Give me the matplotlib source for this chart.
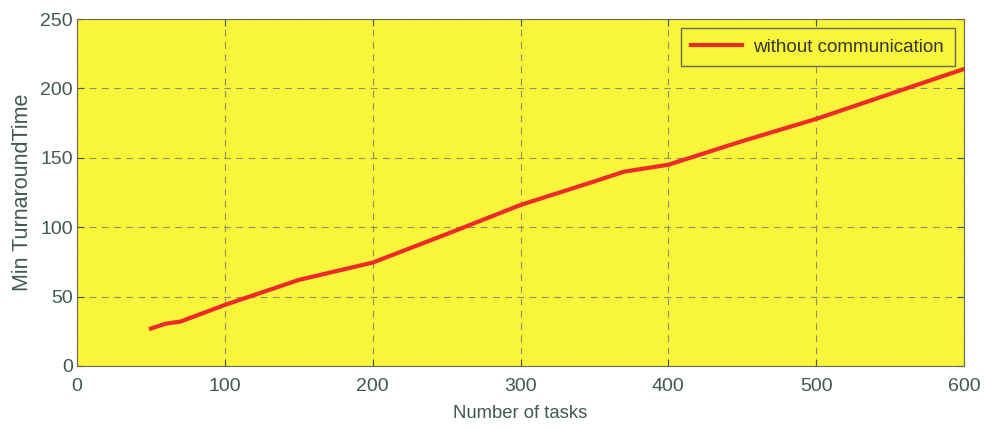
import matplotlib
matplotlib.use("Agg")
import matplotlib.pyplot as plt

tasks = [50, 60, 70, 100, 150, 200, 250, 300, 350, 370, 400, 450, 500, 550, 600]
turnaround = [27, 30.5, 32, 44, 62, 74.5, 95, 116, 133, 140, 145, 162, 178, 196, 214]
series_label = "without communication"
x_label = "Number of tasks"
y_label = "Min TurnaroundTime"
x_ticks = [0, 100, 200, 300, 400, 500, 600]
y_ticks = [0, 50, 100, 150, 200, 250]

plt.rcParams['font.family'] = ['Liberation Sans', 'DejaVu Sans']
text_color = '#3f5a4c'

fig = plt.figure(figsize=(9.89, 4.29), dpi=100)
ax = fig.add_axes([0.0779, 0.1469, 0.8968, 0.8088])
ax.set_facecolor('#f8f53a')
ax.plot(tasks, turnaround, color='#ee2a2a', linewidth=3, label=series_label)
ax.set_xlim(0, 600)
ax.set_ylim(0, 250)
ax.set_xticks(x_ticks)
ax.set_yticks(y_ticks)
ax.grid(True, linestyle=(0, (6, 5)), color='#8f8f68', linewidth=0.8)
ax.tick_params(direction='in', top=True, right=True, labelsize=14,
               colors=text_color, length=5)
ax.tick_params(axis='x', pad=9)
ax.tick_params(axis='y', pad=3)
for s in ax.spines.values():
    s.set_color('#6a6a5a')
    s.set_linewidth(0.8)
ax.set_xlabel(x_label, fontsize=13.3, color=text_color, labelpad=7)
ax.set_ylabel(y_label, fontsize=15.5, color=text_color, labelpad=5)
leg = ax.legend(loc='upper right', fontsize=13.6, facecolor='#f8f53a',
                edgecolor='#6a6a5a', fancybox=False, framealpha=1,
                handlelength=2.7, borderaxespad=0.5, borderpad=0.55,
                handletextpad=0.6)
for t in leg.get_texts():
    t.set_color('#333833')
fig.savefig('out.png', dpi=100)
